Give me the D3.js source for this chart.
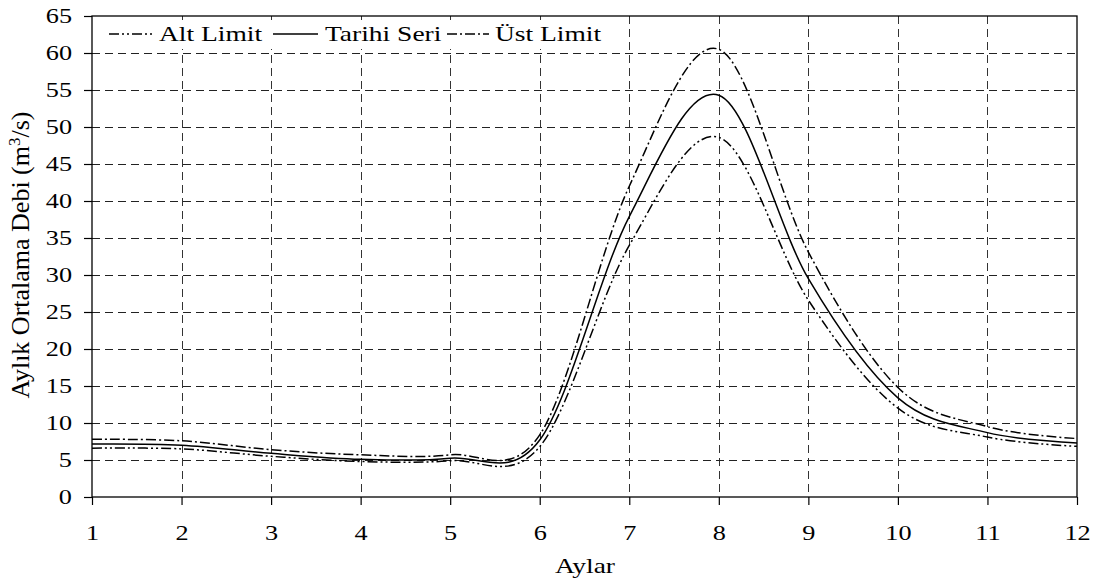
<!DOCTYPE html>
<html><head><meta charset="utf-8">
<script src="https://cdn.jsdelivr.net/npm/d3@7"></script>
<style>body{margin:0;background:#fff}svg text{font-family:"Liberation Serif","Times New Roman",serif;fill:#000}</style>
</head><body><svg id="c" width="1108" height="580"></svg>
<script>
const months = [1,2,3,4,5,6,7,8,9,10,11,12];
const tarihiSeri = [7.16, 7.0, 5.9, 5.1, 5.25, 7.7, 37.9, 54.3, 29.5, 13.4, 8.7, 7.3];
const ustLimit   = [7.8, 7.6, 6.4, 5.7, 5.7, 8.4, 42.0, 60.5, 33.1, 14.8, 9.5, 7.9];
const altLimit   = [6.6, 6.5, 5.5, 4.8, 4.9, 6.8, 34.0, 48.6, 26.6, 12.0, 8.1, 6.85];
const xTicks = [1,2,3,4,5,6,7,8,9,10,11,12];
const yTicks = [0,5,10,15,20,25,30,35,40,45,50,55,60,65];
const seriesNames = ["Alt Limit","Tarihi Seri","Üst Limit"];

const SX = 1.25; // horizontal text stretch
const svg = d3.select("#c");
const L=92,R=1077,T=16,B=497;
const x = d3.scaleLinear().domain([1,12]).range([L,R]);
const y = d3.scaleLinear().domain([0,65]).range([B,T]);

// grid
const g = svg.append("g");
g.selectAll(".vg").data(xTicks.slice(1,-1)).enter().append("line")
 .attr("x1",d=>Math.round(x(d))+0.5).attr("x2",d=>Math.round(x(d))+0.5).attr("y1",T).attr("y2",B)
 .attr("stroke","#333").attr("stroke-width",1).attr("stroke-dasharray","8,5");
g.selectAll(".hg").data(yTicks.slice(1,-1)).enter().append("line")
 .attr("y1",d=>Math.round(y(d))+0.5).attr("y2",d=>Math.round(y(d))+0.5).attr("x1",L).attr("x2",R)
 .attr("stroke","#222").attr("stroke-width",1).attr("stroke-dasharray","8,5");

// axes
const fs = 21;
const ya = svg.append("g").attr("transform",`translate(${L},0)`)
 .call(d3.axisLeft(y).tickValues(yTicks).tickSize(8).tickPadding(12).tickFormat(d3.format("d")));
const xa = svg.append("g").attr("transform",`translate(0,${B})`)
 .call(d3.axisBottom(x).tickValues(xTicks).tickSize(8).tickPadding(20).tickFormat(d3.format("d")));
[ya,xa].forEach(a=>{
  a.select(".domain").remove();
  a.selectAll("line").attr("stroke","#000").attr("stroke-width",1.2);
  a.selectAll("text").attr("font-size",fs).attr("font-family","Liberation Serif");
});
ya.selectAll("text").each(function(){const t=d3.select(this);t.attr("x",+t.attr("x")/SX).attr("transform",`scale(${SX},1)`);});
xa.selectAll("text").attr("transform",`scale(${SX},1)`);

// frame
svg.append("rect").attr("x",L).attr("y",T).attr("width",R-L).attr("height",B-T)
 .attr("fill","none").attr("stroke","#000").attr("stroke-width",1.3);

// lines
const line = d3.line().x(d=>x(d[0])).y(d=>y(d[1])).curve(d3.curveCatmullRom.alpha(0));
const styles = [
  {data:altLimit, dash:"10,3,2,3,2,3", w:1.5},
  {data:tarihiSeri, dash:null, w:1.5},
  {data:ustLimit, dash:"10,3,2,3", w:1.5}
];
styles.forEach(s=>{
  svg.append("path").datum(months.map((m,i)=>[m,s.data[i]])).attr("d",line)
   .attr("fill","none").attr("stroke","#000").attr("stroke-width",s.w)
   .attr("stroke-dasharray",s.dash);
});

// legend
svg.append("rect").attr("x",100).attr("y",20).attr("width",515).attr("height",29).attr("fill","#fff");
const legX = [[109,152,159],[273,318,325],[447,489,495]];
seriesNames.forEach((n,i)=>{
  const [a,b,tx]=legX[i];
  svg.append("line").attr("x1",a).attr("x2",b).attr("y1",34).attr("y2",34)
    .attr("stroke","#000").attr("stroke-width",styles[i].w).attr("stroke-dasharray",styles[i].dash);
  svg.append("text").attr("x",tx/SX).attr("y",41).attr("transform",`scale(${SX},1)`)
    .attr("font-size",22).text(n);
});

// titles
svg.append("text").attr("x",585/SX).attr("y",573).attr("transform",`scale(${SX},1)`)
  .attr("text-anchor","middle").attr("font-size",22).text("Aylar");
const yt = svg.append("text").attr("transform",`translate(29,255) rotate(-90)`)
  .attr("text-anchor","middle").attr("font-size",26);
yt.append("tspan").text("Aylık Ortalama Debi (m");
yt.append("tspan").attr("baseline-shift","super").attr("font-size",17).text("3");
yt.append("tspan").text("/s)");
</script></body></html>
